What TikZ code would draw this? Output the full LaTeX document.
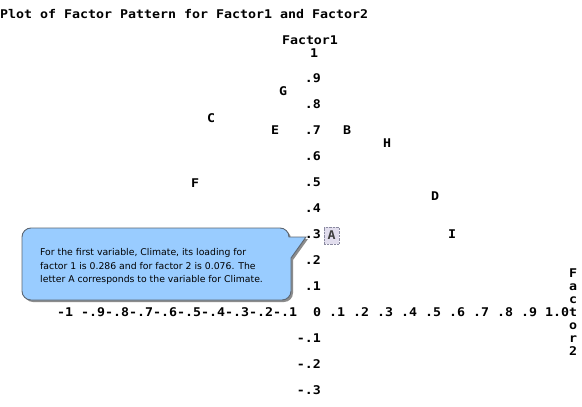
\documentclass[tikz,border=0pt]{standalone}
\usepackage{fontspec}
\newfontfamily\sasfont[FakeStretch=1.107]{DejaVu Sans Mono}
\newfontfamily\tipfont{DejaVu Sans}
\definecolor{tipblue}{HTML}{99CCFF}
\definecolor{tipedge}{HTML}{5C6672}
\definecolor{aboxfill}{HTML}{E2DEEE}
\definecolor{aboxedge}{HTML}{8A8AA0}
\begin{document}
\begin{tikzpicture}[x=1pt,y=-1pt,
  sas/.style={font=\sasfont\bfseries\fontsize{12}{13}\selectfont, inner sep=0pt, anchor=base},
  ylab/.style={sas, anchor=base east},
  pt/.style={sas},
  tiptxt/.style={font=\tipfont\fontsize{9.3}{13.8}\selectfont, inner sep=0pt, align=left, anchor=north west}]
\useasboundingbox (0,0) rectangle (582,407);
\fill[white] (0,0) rectangle (582,407);

% title
\node[sas, anchor=base west] (title) at (0,18.5) {Plot of Factor Pattern for Factor1 and Factor2};
\node[sas] (f1) at (310,44.5) {Factor1};

% y axis labels
\node[sas] (y10) at (314,57) {1};
\foreach \t/\yy [count=\i] in {.9/78.5,.8/104.5,.7/130.5,.6/156.5,.5/182.5,.4/208.5,.3/234.5,.2/260.5,.1/286.5,-.1/338.5,-.2/364.5,-.3/390.5}
  \node[ylab] (yl\i) at (321,\yy+4.4) {\t};

% x axis row
\node[sas, anchor=base west] (xrow) at (57,316.9) {-1~-.9-.8-.7-.6-.5-.4-.3-.2-.1~~0~.1~.2~.3~.4~.5~.6~.7~.8~.9~1.0};

% Factor2 vertical label
\foreach \ch [count=\i] in {F,a,c,t,o,r,2}
  \node[sas] (f2\i) at (573,312.5+13*\i-52+4.4) {\ch};

% points
\node[pt] (G) at (283,95.4) {G};
\node[pt] (C) at (211,122.4) {C};
\node[pt] (E) at (275,134.9) {E};
\node[pt] (B) at (347,134.9) {B};
\node[pt] (H) at (387,147.9) {H};
\node[pt] (F) at (195,187.4) {F};
\node[pt] (D) at (435,200.4) {D};
\node[pt] (I) at (452,238.9) {I};
\node[draw=aboxedge, densely dotted, fill=aboxfill, minimum width=15pt, minimum height=17pt, inner sep=0pt] (Abox) at (331.5,235.5) {};
\node[pt, text=black!75] (A) at (331.5,239.4) {A};

% callout
\path[fill=black!45, rounded corners=9pt] (24,266) -- (24,230) -- (291,230) [sharp corners] -- (291,239) -- (308,239) -- (293,260) [rounded corners=9pt] -- (293,302) -- (24,302) -- cycle;
\path[draw=tipedge, line width=0.9pt, fill=tipblue, rounded corners=9pt] (22,264) -- (22,228) -- (289,228) [sharp corners] -- (289,237) -- (306,237) -- (291,258) [rounded corners=9pt] -- (291,300) -- (22,300) -- cycle;
\node[tiptxt] (tip) at (40,248) {For the first variable, Climate, its loading for\\factor 1 is 0.286 and for factor 2 is 0.076. The\\letter A corresponds to the variable for Climate.};
\end{tikzpicture}
\end{document}
